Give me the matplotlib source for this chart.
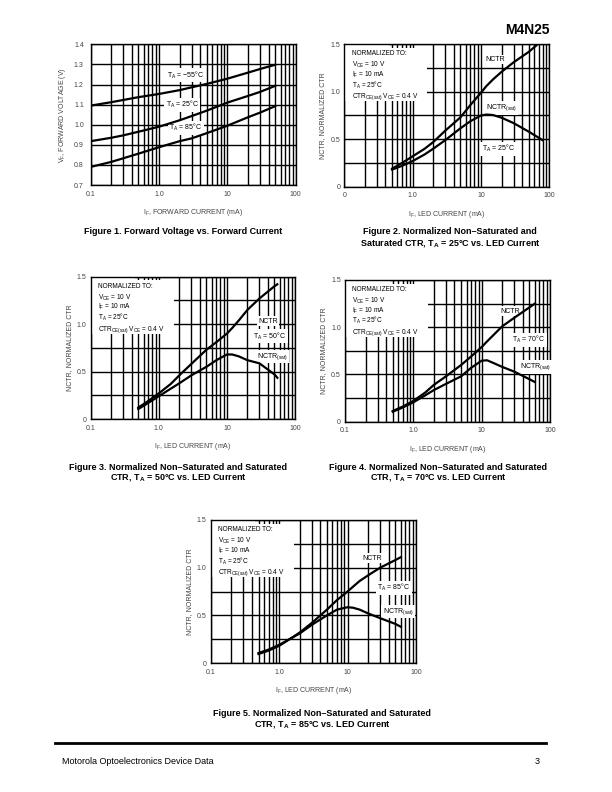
import numpy as np
import matplotlib
matplotlib.use("Agg")
import matplotlib.pyplot as plt
from matplotlib.patches import Rectangle
from matplotlib.ticker import FixedLocator, LogLocator, NullFormatter

plt.rcParams['font.family'] = ['Liberation Sans', 'DejaVu Sans']
plt.rcParams['mathtext.fontset'] = 'custom'
plt.rcParams['mathtext.rm'] = 'Liberation Sans'
plt.rcParams['mathtext.it'] = 'Liberation Sans'
plt.rcParams['mathtext.bf'] = 'Liberation Sans:bold'

# ---- Figure 1: forward voltage vs forward current ----
vf_if = [0.1, 0.2, 0.3, 0.5, 1.0, 2.0, 3.0, 5.0, 10, 20, 30, 50]
vf_m55 = [1.095, 1.112, 1.123, 1.137, 1.153, 1.172, 1.186, 1.203, 1.229, 1.259, 1.277, 1.298]
vf_25 = [0.918, 0.935, 0.947, 0.965, 0.990, 1.022, 1.043, 1.070, 1.110, 1.143, 1.163, 1.193]
vf_85 = [0.790, 0.815, 0.833, 0.856, 0.888, 0.918, 0.932, 0.958, 0.995, 1.037, 1.060, 1.092]

# ---- Figures 2..5: normalized CTR vs LED current ----
ctr_if = [0.5, 0.7, 1.0, 1.5, 2.0, 3.0, 5.0, 7.0, 10, 12, 15, 20, 30, 50]
nctr_25 = [0.19, 0.25, 0.32, 0.40, 0.47, 0.59, 0.73, 0.86, 0.99, 1.06, 1.13, 1.21, 1.31, 1.42]
nsat_25 = [0.18, 0.22, 0.27, 0.34, 0.40, 0.49, 0.615, 0.69, 0.75, 0.76, 0.755, 0.727, 0.67, 0.58]
nctr_end_25 = [65, 1.49]
nsat_end_25 = [80, 0.49]

nctr_50 = [0.12, 0.19, 0.27, 0.37, 0.46, 0.58, 0.73, 0.81, 0.90, 0.96, 1.04, 1.15, 1.27, 1.40]
nsat_50 = [0.105, 0.17, 0.24, 0.32, 0.376, 0.46, 0.55, 0.62, 0.68, 0.68, 0.66, 0.62, 0.587, 0.47]
nctr_end_50 = [55, 1.42]
nsat_end_50 = [55, 0.435]

nctr_70 = [0.113, 0.16, 0.22, 0.31, 0.39, 0.48, 0.60, 0.69, 0.79, 0.85, 0.92, 1.01, 1.10, 1.21]
nsat_70 = [0.106, 0.15, 0.205, 0.28, 0.335, 0.40, 0.48, 0.57, 0.646, 0.65, 0.62, 0.58, 0.53, 0.45]
nctr_end_70 = [60, 1.25]
nsat_end_70 = [60, 0.42]

nctr_85 = [0.094, 0.13, 0.18, 0.26, 0.32, 0.42, 0.56, 0.66, 0.75, 0.80, 0.86, 0.92, 1.00, 1.08]
nsat_85 = [0.105, 0.14, 0.19, 0.26, 0.31, 0.40, 0.50, 0.56, 0.585, 0.58, 0.56, 0.52, 0.47, 0.41]
nctr_end_85 = [60, 1.11]
nsat_end_85 = [60, 0.38]

norm_lines = ['NORMALIZED TO:',
              'V$_\\mathregular{CE}$ = 10 V',
              'I$_\\mathregular{F}$ = 10 mA',
              'T$_\\mathregular{A}$ = 25\u00b0C',
              'CTR$_\\mathregular{CE(sat)}$ V$_\\mathregular{CE}$ = 0.4 V']
norm_y = [1.40, 1.28, 1.177, 1.07, 0.945]

GRAY = '#444444'
TICK_FS = 5
LAB_FS = 5


def setup_log_axes(ax, ylim, ymajor, yminor, ylabels, xlabels, ypad):
    ax.set_xscale('log')
    ax.set_xlim(0.1, 100)
    ax.set_ylim(*ylim)
    ax.xaxis.set_major_locator(FixedLocator([0.1, 1, 10, 100]))
    ax.xaxis.set_minor_locator(LogLocator(base=10, subs=np.arange(2, 10)))
    ax.xaxis.set_minor_formatter(NullFormatter())
    ax.set_xticklabels(xlabels)
    ax.yaxis.set_major_locator(FixedLocator(ymajor))
    ax.yaxis.set_minor_locator(FixedLocator(yminor))
    ax.set_yticklabels(ylabels)
    ax.grid(True, which='both', color='black', linewidth=1.0, zorder=1)
    ax.tick_params(axis='x', which='both', length=0, pad=4, labelsize=TICK_FS, labelcolor=GRAY)
    ax.tick_params(axis='y', which='both', length=0, pad=ypad, labelsize=TICK_FS, labelcolor=GRAY)
    for s in ax.spines.values():
        s.set_linewidth(1.0)
    ax.set_axisbelow(True)


def white_label(ax, x, y, s, ha='center'):
    ax.text(x, y, s, fontsize=LAB_FS, ha=ha, va='center', zorder=4,
            bbox=dict(facecolor='white', edgecolor='none', pad=1.0))


fig = plt.figure(figsize=(6.12, 7.92), dpi=100)

# header
fig.text(550 / 612, 1 - 30 / 792, 'M4N25', fontsize=10, fontweight='heavy', ha='right', va='center')

# ---- Figure 1 ----
ax1 = fig.add_axes([90.7 / 612, 1 - 185 / 792, 205 / 612, 140.7 / 792])
setup_log_axes(ax1, (0.7, 1.4), np.arange(0.7, 1.41, 0.1), [],
               ['0.7', '0.8', '0.9', '1.0', '1.1', '1.2', '1.3', '1.4'],
               ['0.1', '1.0', '10', '100'], ypad=5)
for vals in (vf_m55, vf_25, vf_85):
    ax1.plot(vf_if, vals, color='black', linewidth=1.6, zorder=5)
white_label(ax1, 2.45, 1.247, 'T$_\\mathregular{A}$ = \u221255\u00b0C')
white_label(ax1, 2.2, 1.10, 'T$_\\mathregular{A}$ = 25\u00b0C')
white_label(ax1, 2.45, 0.985, 'T$_\\mathregular{A}$ = 85\u00b0C')
ax1.set_xlabel('I$_\\mathregular{F}$, FORWARD CURRENT (mA)', fontsize=LAB_FS, color=GRAY, labelpad=7)
ax1.set_ylabel('V$_\\mathregular{F}$, FORWARD VOLTAGE (V)', fontsize=LAB_FS, color=GRAY, labelpad=4)


def ctr_chart(rect, nctr, nsat, nctr_end, nsat_end, temp, pos_nctr, pos_temp, pos_sat, first_label='0.1'):
    ax = fig.add_axes(rect)
    setup_log_axes(ax, (0, 1.5), [0, 0.5, 1.0, 1.5], [0.25, 0.75, 1.25],
                   ['0', '0.5', '1.0', '1.5'], [first_label, '1.0', '10', '100'], ypad=3)
    ax.plot(ctr_if + [nctr_end[0]], nctr + [nctr_end[1]], color='black', linewidth=1.6, zorder=5)
    ax.plot(ctr_if + [nsat_end[0]], nsat + [nsat_end[1]], color='black', linewidth=1.6, zorder=5)
    # white panel behind the normalization note
    ax.add_patch(Rectangle((0.1, 0.90), 1.55, 0.56, facecolor='white', edgecolor='none', zorder=2))
    ax.add_patch(Rectangle((0.1, 1.45), 0.35, 0.05, facecolor='white', edgecolor='none', zorder=2))
    for s, y in zip(norm_lines, norm_y):
        ax.text(0.128, y, s, fontsize=4.7, ha='left', va='center', zorder=4)
    white_label(ax, pos_nctr[0], pos_nctr[1], 'NCTR')
    white_label(ax, pos_temp[0], pos_temp[1], 'T$_\\mathregular{A}$ = ' + temp + '\u00b0C')
    white_label(ax, pos_sat[0], pos_sat[1], 'NCTR$_\\mathregular{(sat)}$')
    ax.set_xlabel('I$_\\mathregular{F}$, LED CURRENT (mA)', fontsize=LAB_FS, color=GRAY, labelpad=7)
    ax.set_ylabel('NCTR, NORMALIZED CTR', fontsize=LAB_FS, color=GRAY, labelpad=3)
    return ax


ctr_chart([344.3 / 612, 1 - 186.7 / 792, 205 / 612, 142.4 / 792], nctr_25, nsat_25, nctr_end_25, nsat_end_25,
          '25', (16, 1.34), (18, 0.40), (20, 0.83), first_label='0')
ctr_chart([90.7 / 612, 1 - 419 / 792, 204.3 / 612, 142.3 / 792], nctr_50, nsat_50, nctr_end_50, nsat_end_50,
          '50', (40, 1.03), (43, 0.87), (46, 0.66))
ctr_chart([345 / 612, 1 - 421.7 / 792, 205 / 612, 141.7 / 792], nctr_70, nsat_70, nctr_end_70, nsat_end_70,
          '70', (26, 1.17), (49, 0.87), (62, 0.58))
ctr_chart([210.7 / 612, 1 - 663 / 792, 205.3 / 612, 143 / 792], nctr_85, nsat_85, nctr_end_85, nsat_end_85,
          '85', (23, 1.10), (47, 0.79), (55, 0.54))

# captions
cap = dict(fontsize=6.5, fontweight='bold', ha='center', va='center')


def caption(xc, y1, line1, line2=None):
    fig.text(xc / 612, 1 - y1 / 792, line1, **cap)
    if line2:
        fig.text(xc / 612, 1 - (y1 + 11) / 792, line2, **cap)


caption(183, 232, 'Figure 1. Forward Voltage vs. Forward Current')
caption(450, 232, 'Figure 2. Normalized Non\u2013Saturated and',
        'Saturated CTR, T$_\\mathbf{A}$ = 25\u00b0C vs. LED Current')
caption(178, 467, 'Figure 3. Normalized Non\u2013Saturated and Saturated',
        'CTR, T$_\\mathbf{A}$ = 50\u00b0C vs. LED Current')
caption(438, 467, 'Figure 4. Normalized Non\u2013Saturated and Saturated',
        'CTR, T$_\\mathbf{A}$ = 70\u00b0C vs. LED Current')
caption(322, 713, 'Figure 5. Normalized Non\u2013Saturated and Saturated',
        'CTR, T$_\\mathbf{A}$ = 85\u00b0C vs. LED Current')

# footer
fig.add_artist(plt.Line2D([55 / 612, 546 / 612], [1 - 743 / 792, 1 - 743 / 792], color='black', linewidth=2.0))
fig.text(62 / 612, 1 - 762 / 792, 'Motorola Optoelectronics Device Data', fontsize=6.5, ha='left', va='center')
fig.text(540 / 612, 1 - 762 / 792, '3', fontsize=6.5, ha='right', va='center')

fig.savefig('out.png', dpi=100)
